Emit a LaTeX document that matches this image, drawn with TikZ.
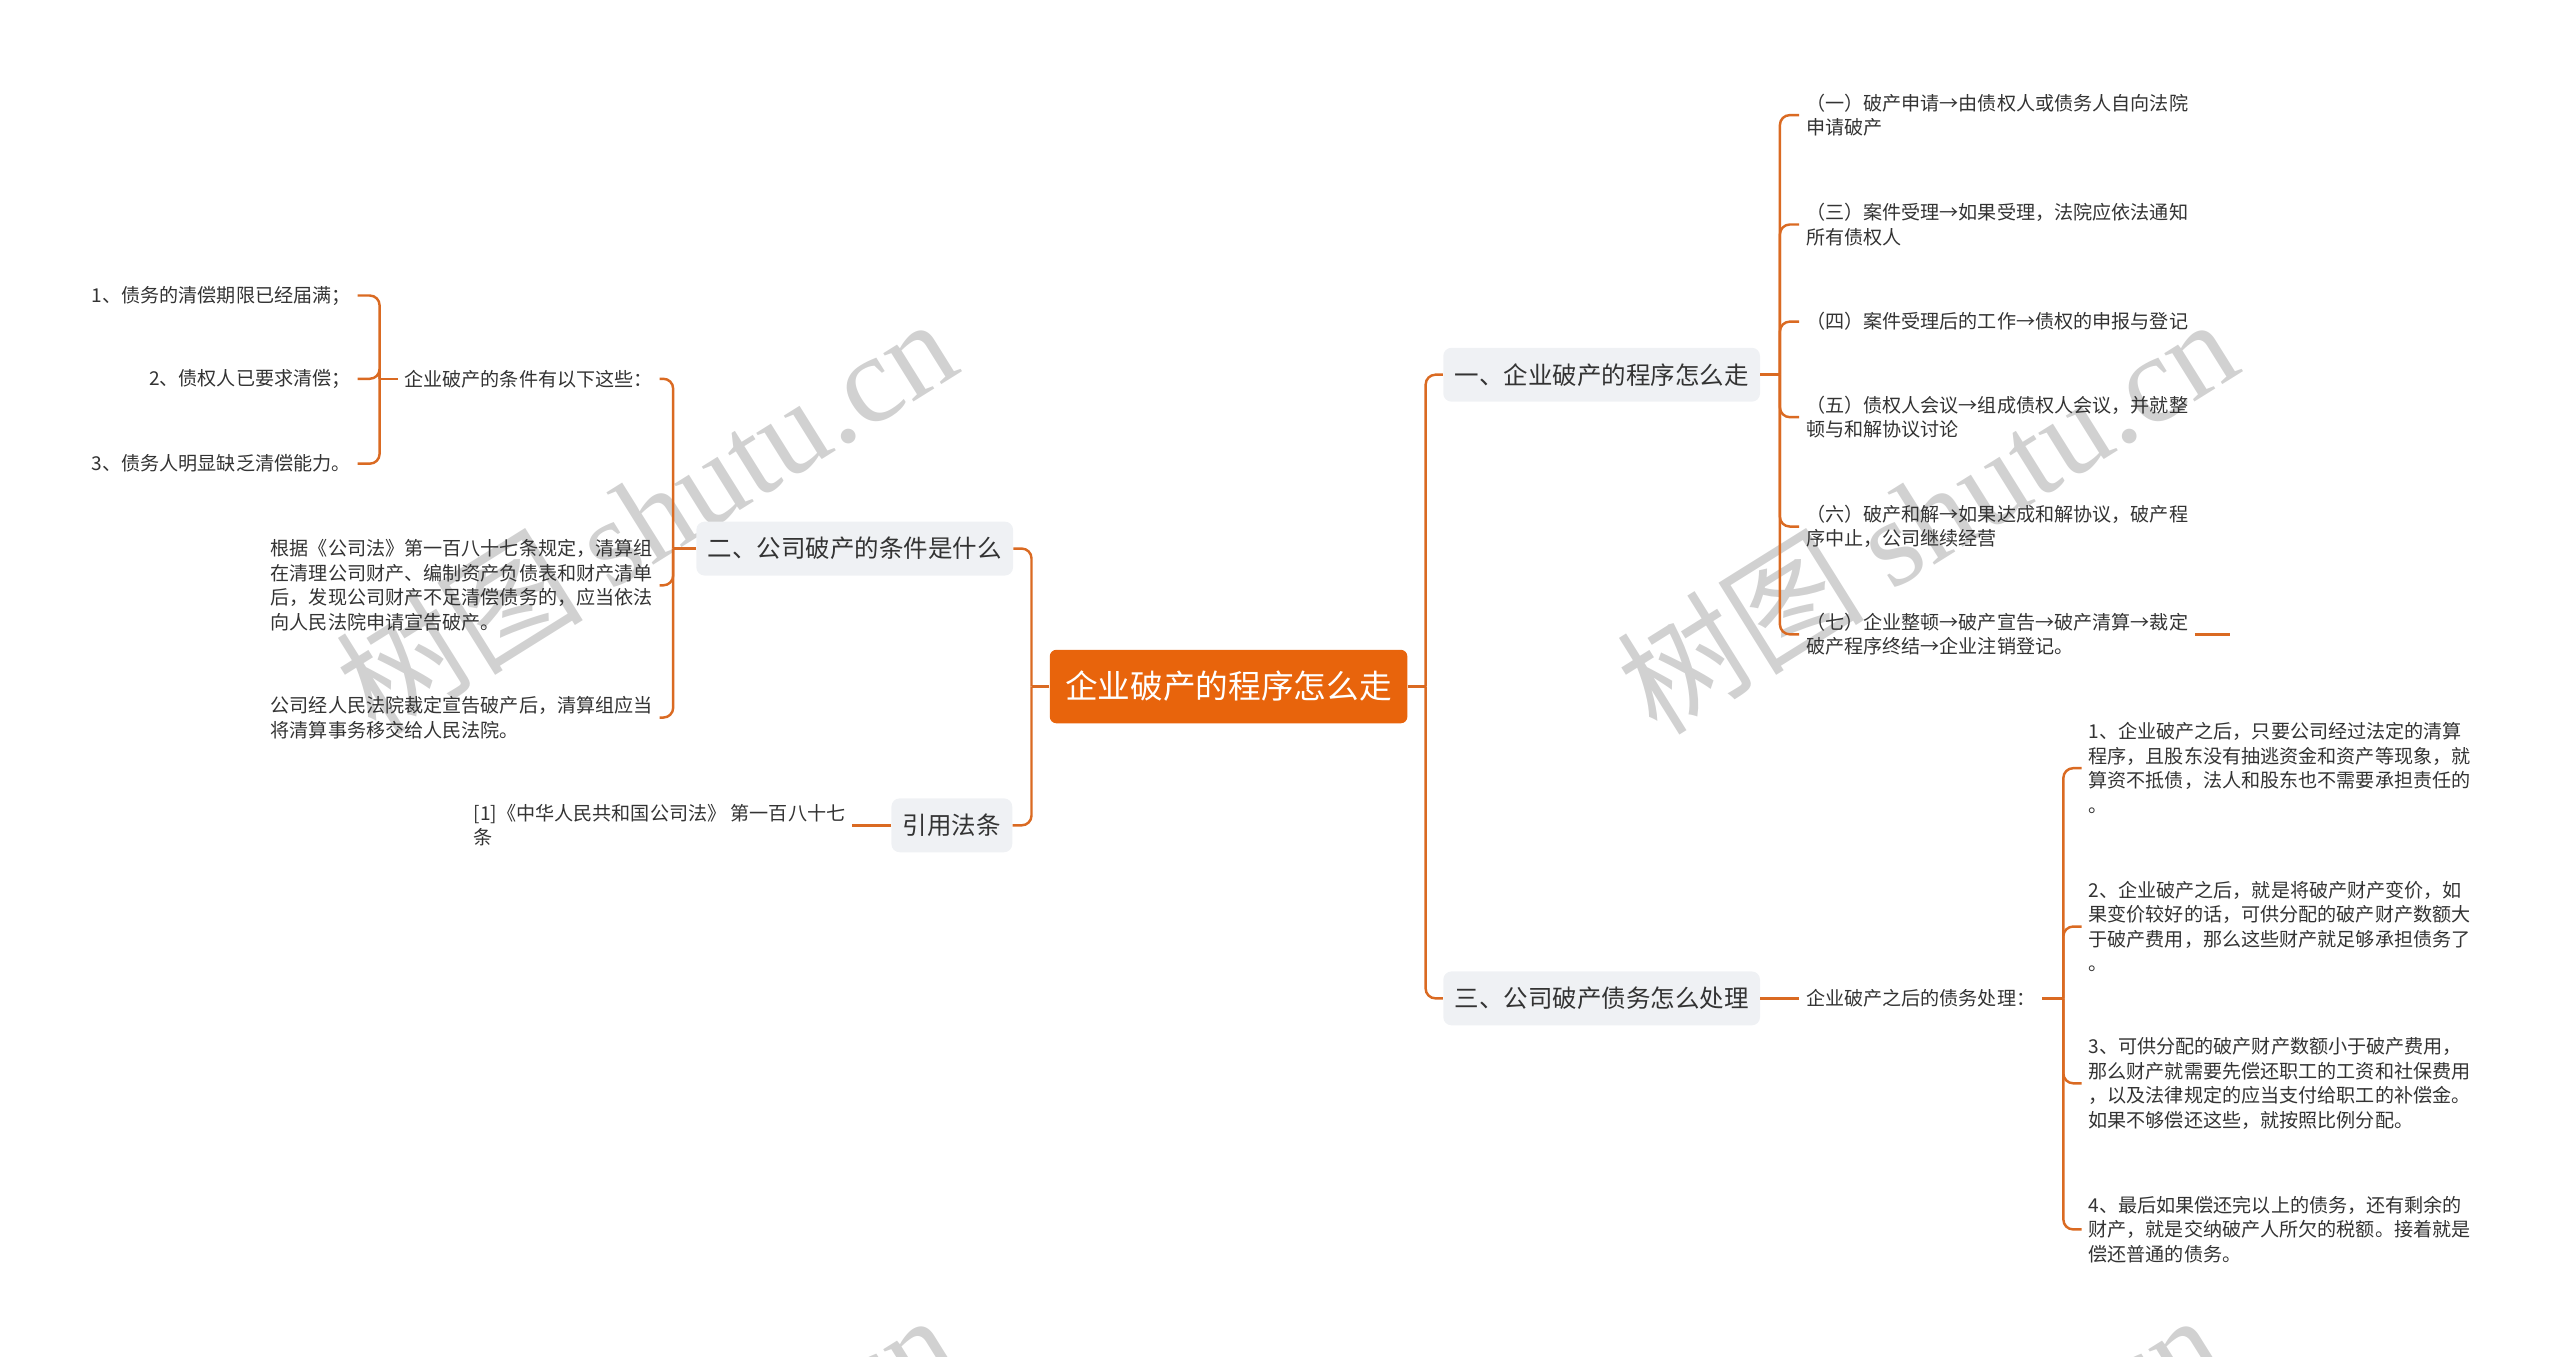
\documentclass[tikz,border=0pt]{standalone}
\usepackage{fontspec}
\setmainfont{Noto Sans CJK SC}
\newfontfamily\wmfont{Liberation Serif}
\usetikzlibrary{positioning}

\definecolor{rootorange}{HTML}{E8640C}
\definecolor{linkorange}{HTML}{DA6A22}
\definecolor{boxgray}{HTML}{EFF1F4}
\definecolor{inkgray}{HTML}{333333}

\begin{document}
\begin{tikzpicture}[x=1pt, y=-1pt,
    link/.style = {linkorange, line width=1.5pt, rounded corners=6pt},
    topic/.style = {fill=rootorange, text=white, rounded corners=4pt, minimum width=219pt, minimum height=45pt, font=\fontsize{20}{24}\selectfont},
    branch/.style = {fill=boxgray, text=inkgray, rounded corners=5pt, minimum height=33pt, inner xsep=7pt, font=\fontsize{15}{18}\selectfont},
    leaf/.style = {text=inkgray, align=left, inner xsep=4pt, inner ysep=2pt, font=\fontsize{11.7}{15}\selectfont},
    wmark/.style = {text=black!18, rotate=32, font=\fontsize{76}{80}\selectfont}]
    \useasboundingbox (0,0) rectangle (1568,831);

    % Watermarks
    \node[wmark] (wm1) at (395,315) {树图 {\wmfont shutu.cn}};
    \node[wmark] (wm2) at (1180,315) {树图 {\wmfont shutu.cn}};
    \node[wmark] (wm3) at (395,925) {树图 {\wmfont shutu.cn}};
    \node[wmark] (wm4) at (1170,925) {树图 {\wmfont shutu.cn}};

    % Central topic and main branches
    \node[topic] (root) at (752.5,420.5) {企业破产的程序怎么走};
    \node[branch] (b1) at (981,229.5) {一、企业破产的程序怎么走};
    \node[branch] (b3) at (981,611.5) {三、公司破产债务怎么处理};
    \node[branch] (b2) at (523.5,336) {二、公司破产的条件是什么};
    \node[branch] (b4) at (583,505.5) {引用法条};

    % Steps of the procedure
    \node[leaf, anchor=west] (d1) at (1102,70.5) {（一）破产申请→由债权人或债务人自向法院\\申请破产};
    \node[leaf, anchor=west] (d3) at (1102,137.5) {（三）案件受理→如果受理，法院应依法通知\\所有债权人};
    \node[leaf, anchor=west] (d4) at (1102,197) {（四）案件受理后的工作→债权的申报与登记};
    \node[leaf, anchor=west] (d5) at (1102,255.5) {（五）债权人会议→组成债权人会议，并就整\\顿与和解协议讨论};
    \node[leaf, anchor=west] (d6) at (1102,322.5) {（六）破产和解→如果达成和解协议，破产程\\序中止，公司继续经营};
    \node[leaf, anchor=west] (d7) at (1102,388.5) {（七）企业整顿→破产宣告→破产清算→裁定\\破产程序终结→企业注销登记。};
    \coordinate (d7stub) at (1366,388.5);

    % Debts after bankruptcy
    \node[leaf, anchor=west] (f) at (1102,611.5) {企业破产之后的债务处理：};
    \node[leaf, anchor=west] (e1) at (1275,470.5) {1、企业破产之后，只要公司经过法定的清算\\程序，且股东没有抽逃资金和资产等现象，就\\算资不抵债，法人和股东也不需要承担责任的\\。};
    \node[leaf, anchor=west] (e2) at (1275,567.5) {2、企业破产之后，就是将破产财产变价，如\\果变价较好的话，可供分配的破产财产数额大\\于破产费用，那么这些财产就足够承担债务了\\。};
    \node[leaf, anchor=west] (e3) at (1275,663.5) {3、可供分配的破产财产数额小于破产费用，\\那么财产就需要先偿还职工的工资和社保费用\\，以及法律规定的应当支付给职工的补偿金。\\如果不够偿还这些，就按照比例分配。};
    \node[leaf, anchor=west] (e4) at (1275,753) {4、最后如果偿还完以上的债务，还有剩余的\\财产，就是交纳破产人所欠的税额。接着就是\\偿还普通的债务。};

    % Conditions of bankruptcy
    \node[leaf, anchor=east] (c1) at (404,232) {企业破产的条件有以下这些：};
    \node[leaf, anchor=east] (c2) at (404,358.5) {根据《公司法》第一百八十七条规定，清算组\\在清理公司财产、编制资产负债表和财产清单\\后，发现公司财产不足清偿债务的，应当依法\\向人民法院申请宣告破产。};
    \node[leaf, anchor=east] (c3) at (404,439.5) {公司经人民法院裁定宣告破产后，清算组应当\\将清算事务移交给人民法院。};
    \node[leaf, anchor=east] (g1) at (219,181) {1、债务的清偿期限已经届满；};
    \node[leaf, anchor=east] (g2) at (219,232) {2、债权人已要求清偿；};
    \node[leaf, anchor=east] (g3) at (219,284) {3、债务人明显缺乏清偿能力。};

    % Cited law
    \node[leaf, anchor=east] (h1) at (522,505.5) {[1]《中华人民共和国公司法》 第一百八十七\\条};

    % Connectors, right side
    \draw[link] (root.east) -- ++(11,0) coordinate (rt);
    \foreach \b in {b1,b3} \draw[link] (rt) |- (\b.west);
    \draw[link] (b1.east) -- ++(12,0) coordinate (t1);
    \foreach \d in {d1,d3,d4,d5,d6,d7} \draw[link] (t1) |- (\d.west);
    \draw[link] (d7.east) -- (d7stub);
    \draw[link] (b3.east) -- (f.west);
    \draw[link] (f.east) -- ++(13,0) coordinate (t3);
    \foreach \e in {e1,e2,e3,e4} \draw[link] (t3) |- (\e.west);

    % Connectors, left side
    \draw[link] (root.west) -- ++(-11,0) coordinate (lt);
    \foreach \b in {b2,b4} \draw[link] (lt) |- (\b.east);
    \draw[link] (b2.west) -- ++(-14,0) coordinate (t2);
    \foreach \c in {c1,c2,c3} \draw[link] (t2) |- (\c.east);
    \draw[link] (c1.west) -- ++(-11,0) coordinate (t21);
    \foreach \g in {g1,g2,g3} \draw[link] (t21) |- (\g.east);
    \draw[link] (b4.west) -- (h1.east);
\end{tikzpicture}
\end{document}
